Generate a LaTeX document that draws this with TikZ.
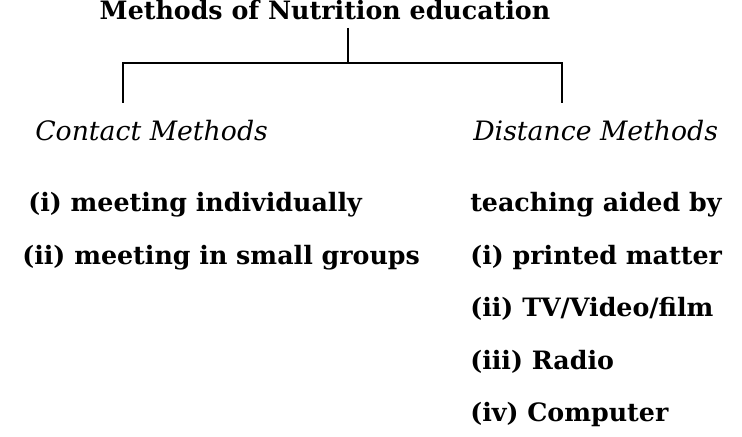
\documentclass[tikz,border=0pt]{standalone}
\usepackage{fontspec}
\setmainfont{DejaVu Serif}
\begin{document}
\begin{tikzpicture}[
        txt/.style={anchor=base west,inner sep=0pt,font=\fontsize{18}{21}\selectfont\bfseries},
        head/.style={anchor=base west,inner sep=0pt,font=\fontsize{19}{22}\selectfont\itshape}]
        \useasboundingbox (0,0) rectangle (18.55,10.925);

        \node[anchor=base,inner sep=0pt,font=\fontsize{18}{21}\selectfont\bfseries] (title) at (8.125,10.425) {Methods of Nutrition education};

        \coordinate (stem) at (8.7,10.225);
        \coordinate (junction) at (8.7,9.35);
        \coordinate (lefttop) at (3.075,9.35);
        \coordinate (righttop) at (14.05,9.35);
        \coordinate (leftend) at (3.075,8.35);
        \coordinate (rightend) at (14.05,8.35);

        \draw[line width=1.9pt] (stem) -- (junction);
        \draw[line width=1.9pt] (leftend) -- (lefttop) -- (righttop) -- (rightend);

        \node[head] (contact) at (0.875,7.4) {Contact Methods};
        \node[head] (distance) at (11.825,7.4) {Distance Methods};

        \node[txt] (ci) at (0.7,5.625) {(i) meeting individually};
        \node[txt] (cii) at (0.55,4.3) {(ii) meeting in small groups};

        \node[txt] (aided) at (11.75,5.625) {teaching aided by};
        \node[txt] (di) at (11.75,4.3) {(i) printed matter};
        \node[txt] (dii) at (11.75,3.0) {(ii) TV/Video/film};
        \node[txt] (diii) at (11.75,1.675) {(iii) Radio};
        \node[txt] (div) at (11.75,0.375) {(iv) Computer};

    \end{tikzpicture}
\end{document}
